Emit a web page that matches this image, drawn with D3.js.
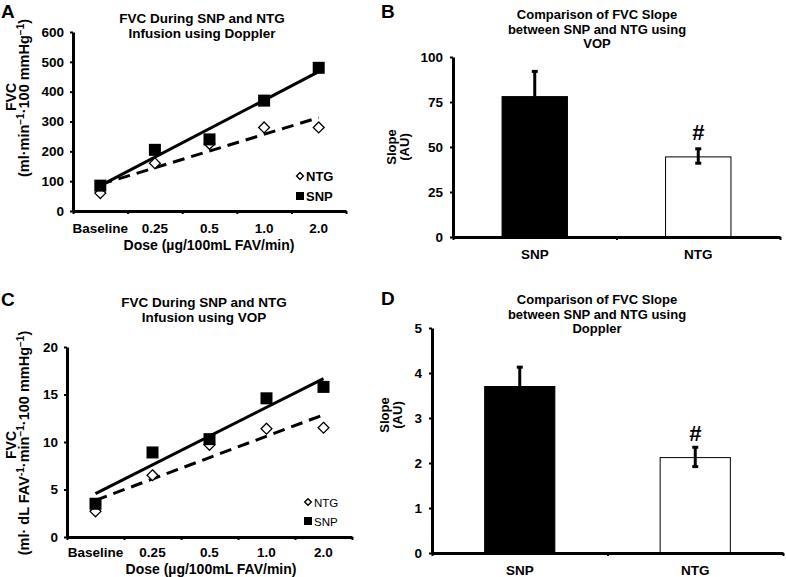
<!DOCTYPE html>
<html>
<head>
<meta charset="utf-8">
<script src="https://cdn.jsdelivr.net/npm/d3@7"></script>
<style>
  body { margin: 0; background: #fff; }
  svg { display: block; font-family: "Liberation Sans", Arial, sans-serif; }
  .axis path, .axis line { stroke: #000; }
  .axis text { font-family: "Liberation Sans", Arial, sans-serif; font-weight: bold; font-size: 13.5px; fill: #000; }
</style>
</head>
<body>
<svg width="786" height="577"></svg>
<script>
// data
const doses = ['Baseline', '0.25', '0.5', '1.0', '2.0']

// panel A - Doppler (ml·min-1·100 mmHg-1)
const dopplerSNP = [85, 205, 240, 370, 480]
const dopplerNTG = [60, 160, 225, 280, 280]

// panel C - VOP
const vopSNP = [3.5, 8.9, 10.3, 14.6, 15.8]
const vopNTG = [2.7, 6.5, 9.7, 11.4, 11.5]

// bar panels
const groups = ['SNP', 'NTG']
const vopSlope = [78, 44.5]
const vopErrLow = [null, 41]
const vopErrHigh = [92, 49]
const dopSlope = [3.7, 2.12]
const dopErrLow = [null, 1.92]
const dopErrHigh = [4.13, 2.35]

// y ticks
const ticksA = [0, 100, 200, 300, 400, 500, 600]
const ticksB = [0, 25, 50, 75, 100]
const ticksC = [0, 5, 10, 15, 20]
const ticksD = [0, 1, 2, 3, 4, 5]

let svg = d3.select('svg')

// least squares line over the dose index
let fitLine = (vals) => {
    let n = vals.length
    let xs = vals.map((v, i) => i)
    let mx = d3.mean(xs), my = d3.mean(vals)
    let b = d3.sum(xs, (x, i) => (x - mx) * (vals[i] - my)) / d3.sum(xs, x => (x - mx) * (x - mx))
    let a = my - b * mx
    return [[0, a], [n - 1, a + b * (n - 1)]]
}

let styleAxis = (g, w) => {
    g.select('.domain').attr('stroke-width', w)
    g.selectAll('.tick line').attr('stroke-width', 2)
}

let drawLinePanel = (o) => {
    let g = svg.append('g')
    let x = d3.scaleBand().domain(doses).range([o.x0, o.x1])
    let xi = d3.scaleLinear().domain([0, doses.length]).range([o.x0, o.x1])
    let y = d3.scaleLinear().domain([0, d3.max(o.ticks)]).range([o.y0, o.y1])
    let cx = i => x(doses[i]) + x.bandwidth() / 2

    // panel letter and title
    g.append('text').attr('x', o.lx).attr('y', o.ly).text(o.letter)
        .attr('font-size', 19).attr('font-weight', 'bold')
    g.selectAll('.ttl').data(o.title).enter().append('text')
        .attr('x', o.tx).attr('y', (d, i) => o.ty + i * 15.2)
        .attr('text-anchor', 'middle').attr('font-size', 13.5).attr('font-weight', 'bold')
        .text(d => d)

    // trend lines
    let line = d3.line().x(d => cx(d[0])).y(d => y(d[1]))
    g.append('path').datum(fitLine(o.ntg)).attr('d', line)
        .attr('stroke', '#000').attr('stroke-width', 3).attr('fill', 'none')
        .attr('stroke-dasharray', '12,7')
    g.append('path').datum(fitLine(o.snp)).attr('d', line)
        .attr('stroke', '#000').attr('stroke-width', 3).attr('fill', 'none')

    // markers
    let diamond = d3.symbol().type(d3.symbolDiamond2).size(75)
    g.selectAll('.ntg').data(o.ntg).enter().append('path')
        .attr('d', diamond).attr('transform', (d, i) => `translate(${cx(i)},${y(d)})`)
        .attr('fill', '#fff').attr('stroke', '#000').attr('stroke-width', 1.3)
    g.selectAll('.snp').data(o.snp).enter().append('rect')
        .attr('x', (d, i) => cx(i) - 6).attr('y', d => y(d) - 6)
        .attr('width', 12).attr('height', 12).attr('fill', '#000')

    // axes
    let yAxis = g.append('g').attr('class', 'axis')
        .attr('transform', `translate(${o.x0},0)`)
        .call(d3.axisLeft(y).tickValues(o.ticks).tickFormat(d3.format('d')).tickSize(3).tickSizeOuter(0).tickPadding(6))
    styleAxis(yAxis, 3)
    let xTicks = g.append('g').attr('class', 'axis')
        .attr('transform', `translate(0,${o.y0})`)
        .call(d3.axisBottom(xi).ticks(doses.length).tickSize(3).tickSizeOuter(0).tickFormat(''))
    styleAxis(xTicks, 3)
    g.append('g').attr('class', 'axis')
        .attr('transform', `translate(0,${o.y0})`)
        .call(d3.axisBottom(x).tickSize(0).tickPadding(o.labelPad))
        .call(a => a.select('.domain').remove())

    // axis titles
    g.append('text').attr('x', o.xtx).attr('y', o.xty)
        .attr('text-anchor', 'middle').attr('font-size', 14).attr('font-weight', 'bold')
        .text('Dose (µg/100mL  FAV/min)')
    g.append('text').attr('transform', `translate(${o.ylx1},${o.ylc}) rotate(-90)`)
        .attr('text-anchor', 'middle').attr('font-size', 14).attr('font-weight', 'bold').text('FVC')
    let yl = g.append('text').attr('transform', `translate(${o.ylx2},${o.ylc2}) rotate(-90)`)
        .attr('text-anchor', 'middle').attr('font-size', o.ylSize).attr('font-weight', 'bold')
    o.ylabel.forEach(p => {
        yl.append('tspan').text(p[0])
            .attr('baseline-shift', p[1] ? 'super' : null)
            .attr('font-size', p[1] ? 10 : null)
    })

    // legend
    let lg = g.append('g').attr('transform', `translate(${o.legx},${o.legy})`)
    lg.append('path').attr('d', d3.symbol().type(d3.symbolDiamond2).size(o.legBold ? 30 : 28))
        .attr('fill', '#fff').attr('stroke', '#000').attr('stroke-width', 1.4)
    lg.append('rect').attr('x', -4).attr('y', o.legGap - 4).attr('width', 8).attr('height', 8)
    lg.selectAll('.lt').data(['NTG', 'SNP']).enter().append('text')
        .attr('x', 6).attr('y', (d, i) => i * o.legGap + 4.5)
        .attr('font-size', o.legBold ? 13 : 11.5).attr('font-weight', o.legBold ? 'bold' : 'normal')
        .text(d => d)
}

let drawBarPanel = (o) => {
    let g = svg.append('g')
    let x = d3.scaleBand().domain(groups).range([o.x0, o.x1]).paddingInner(0.6).paddingOuter(0.3)
    let xi = d3.scaleLinear().domain([0, 2]).range([o.x0, o.x1])
    let y = d3.scaleLinear().domain([0, d3.max(o.ticks)]).range([o.y0, o.y1])

    g.append('text').attr('x', o.lx).attr('y', o.ly).text(o.letter)
        .attr('font-size', 19).attr('font-weight', 'bold')
    g.selectAll('.ttl').data(o.title).enter().append('text')
        .attr('x', o.tx).attr('y', (d, i) => o.ty + i * 14.6)
        .attr('text-anchor', 'middle').attr('font-size', 13).attr('font-weight', 'bold')
        .text(d => d)

    // SNP error bar: upper whisker only, sits behind the bar
    let c1 = x('SNP') + x.bandwidth() / 2
    g.append('line').attr('x1', c1).attr('x2', c1).attr('y1', y(o.vals[0])).attr('y2', y(o.hi[0]))
        .attr('stroke', '#000').attr('stroke-width', 3)
    g.append('line').attr('x1', c1 - 3).attr('x2', c1 + 3).attr('y1', y(o.hi[0])).attr('y2', y(o.hi[0]))
        .attr('stroke', '#000').attr('stroke-width', 3)

    g.selectAll('.bar').data(o.vals).enter().append('rect')
        .attr('x', (d, i) => x(groups[i])).attr('width', x.bandwidth())
        .attr('y', d => y(d)).attr('height', d => o.y0 - y(d))
        .attr('fill', (d, i) => i == 0 ? '#000' : '#fff')
        .attr('stroke', '#000').attr('stroke-width', 1)

    // NTG error bar over the white bar
    let c2 = x('NTG') + x.bandwidth() / 2
    g.append('line').attr('x1', c2).attr('x2', c2).attr('y1', y(o.lo[1])).attr('y2', y(o.hi[1]))
        .attr('stroke', '#000').attr('stroke-width', 3)
    ;[o.lo[1], o.hi[1]].forEach(v => {
        g.append('line').attr('x1', c2 - 3).attr('x2', c2 + 3).attr('y1', y(v)).attr('y2', y(v))
            .attr('stroke', '#000').attr('stroke-width', 3)
    })

    g.append('text').attr('x', c2).attr('y', y(o.hash)).attr('dy', '0.35em')
        .attr('text-anchor', 'middle').attr('font-size', 22).attr('font-weight', 'bold').text('#')

    let yAxis = g.append('g').attr('class', 'axis')
        .attr('transform', `translate(${o.x0},0)`)
        .call(d3.axisLeft(y).tickValues(o.ticks).tickFormat(d3.format('d')).tickSize(3).tickSizeOuter(0).tickPadding(7))
    styleAxis(yAxis, 3)
    let xTicks = g.append('g').attr('class', 'axis')
        .attr('transform', `translate(0,${o.y0})`)
        .call(d3.axisBottom(xi).ticks(2).tickSize(3).tickSizeOuter(0).tickFormat(''))
    styleAxis(xTicks, 3)
    g.append('g').attr('class', 'axis')
        .attr('transform', `translate(0,${o.y0})`)
        .call(d3.axisBottom(x).tickSize(0).tickPadding(o.labelPad))
        .call(a => a.select('.domain').remove())

    g.append('text').attr('transform', `translate(${o.ylx1},${o.ylc}) rotate(-90)`)
        .attr('text-anchor', 'middle').attr('font-size', 13).attr('font-weight', 'bold').text('Slope')
    g.append('text').attr('transform', `translate(${o.ylx2},${o.ylc}) rotate(-90)`)
        .attr('text-anchor', 'middle').attr('font-size', 13).attr('font-weight', 'bold').text('(AU)')
}

drawLinePanel({
    letter: 'A', lx: 1, ly: 18,
    title: ['FVC During SNP and NTG', 'Infusion using Doppler'], tx: 202, ty: 23,
    x0: 73, x1: 346, y0: 211, y1: 32, ticks: ticksA,
    snp: dopplerSNP, ntg: dopplerNTG, labelPad: 12, xtx: 209, xty: 250,
    ylx1: 16, ylx2: 29, ylc: 97, ylc2: 98, ylSize: 14.5,
    ylabel: [['(ml·min'], ['−1', true], ['·100  mmHg'], ['−1', true], [')']],
    legx: 300, legy: 176, legGap: 20, legBold: true
})

drawLinePanel({
    letter: 'C', lx: 1, ly: 306,
    title: ['FVC During SNP and NTG', 'Infusion using VOP'], tx: 204, ty: 307,
    x0: 67, x1: 352, y0: 537, y1: 347, ticks: ticksC,
    snp: vopSNP, ntg: vopNTG, labelPad: 10, xtx: 211, xty: 574,
    ylx1: 16, ylx2: 29, ylc: 445, ylc2: 443, ylSize: 14.5,
    ylabel: [['(ml· dL FAV'], ['-1', true], ['·min'], ['−1', true], ['·100 mmHg'], ['−1', true], [')']],
    legx: 308, legy: 502, legGap: 19, legBold: false
})

drawBarPanel({
    letter: 'B', lx: 381, ly: 18,
    title: ['Comparison of FVC Slope', 'between SNP and NTG using', 'VOP'], tx: 597, ty: 19,
    x0: 453, x1: 780, y0: 237, y1: 57, ticks: ticksB,
    vals: vopSlope, lo: vopErrLow, hi: vopErrHigh, hash: 58, labelPad: 12,
    ylx1: 396, ylx2: 409, ylc: 147
})

drawBarPanel({
    letter: 'D', lx: 381, ly: 305,
    title: ['Comparison of FVC Slope', 'between SNP and NTG using', 'Doppler'], tx: 597, ty: 304,
    x0: 432, x1: 783, y0: 553, y1: 328, ticks: ticksD,
    vals: dopSlope, lo: dopErrLow, hi: dopErrHigh, hash: 2.67, labelPad: 12,
    ylx1: 389, ylx2: 402, ylc: 415
})
</script>
</body>
</html>
